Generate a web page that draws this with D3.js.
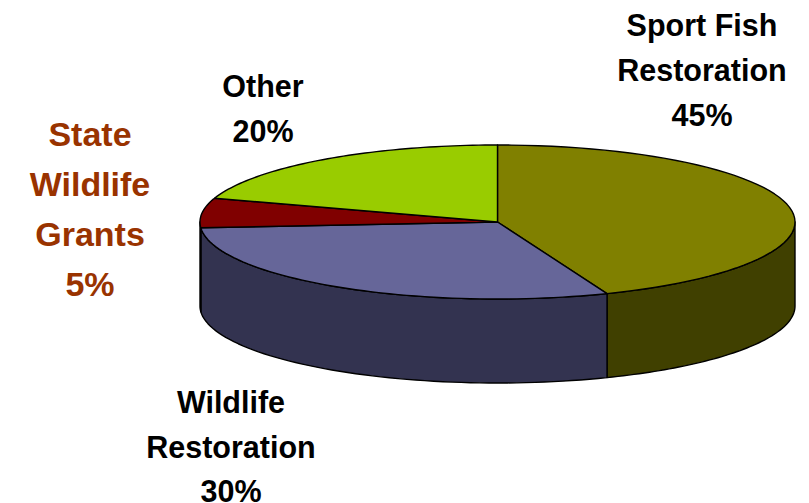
<!DOCTYPE html>
<html><head><meta charset="utf-8">
<script src="https://cdn.jsdelivr.net/npm/d3@7"></script>
<style>html,body{margin:0;padding:0;background:#fff}svg{display:block}</style>
</head><body><svg id="c" width="809" height="503"></svg>
<script>
const categories = ["Sport Fish Restoration", "Wildlife Restoration", "State Wildlife Grants", "Other"];
const labelValues = ["45%", "30%", "5%", "20%"];
const drawnShares = [44, 29.8, 6.2, 20];
const topColors = ["#808000", "#666699", "#800000", "#99CC00"];
const sideColors = ["#404000", "#333350", "#400000", "#4d6600"];
const labelLines = [["Sport Fish", "Restoration", "45%"], ["Wildlife", "Restoration", "30%"], ["State", "Wildlife", "Grants", "5%"], ["Other", "20%"]];
const labelColors = ["#000", "#000", "#993300", "#000"];
const labelX = [702, 231, 90, 263];
const labelY = [36, 413, 146, 97];
const labelStep = [45, 44.5, 50, 45];
const labelSize = [30.5, 30.5, 34, 30.5];

const cx = 497.5, cy = 222, rx = 297.5, ry = 77, depth = 84;
const svg = d3.select("#c");
const sx = d3.scaleLinear().domain([-1, 1]).range([cx - rx, cx + rx]);
const sy = d3.scaleLinear().domain([-1, 1]).range([cy - ry, cy + ry]);
const arcs = d3.pie().sort(null).value(d => d)(drawnShares);

const topPt = (a, dz = 0) => [sx(Math.sin(a)), sy(-Math.cos(a)) + dz];
const samples = (a, b) => d3.range(0, 61).map(i => a + (b - a) * i / 60);
const line = d3.line();

// side walls: only the front half (90deg to 270deg) is visible
arcs.forEach((s, i) => {
  const a = Math.max(s.startAngle, Math.PI / 2), b = Math.min(s.endAngle, 3 * Math.PI / 2);
  if (b <= a) return;
  const pts = samples(a, b).map(t => topPt(t)).concat(samples(b, a).map(t => topPt(t, depth)));
  svg.append("path").attr("d", line(pts) + "Z")
    .attr("fill", sideColors[i]).attr("stroke", "#000").attr("stroke-width", 1.4).attr("stroke-linejoin", "round");
});

// top faces
arcs.forEach((s, i) => {
  const pts = [[cx, cy]].concat(samples(s.startAngle, s.endAngle).map(t => topPt(t)));
  svg.append("path").attr("d", line(pts) + "Z")
    .attr("fill", topColors[i]).attr("stroke", "#000").attr("stroke-width", 1.4).attr("stroke-linejoin", "round");
});

// labels
labelLines.forEach((lines, i) => {
  const t = svg.append("text").attr("text-anchor", "middle")
    .attr("font-family", "'Liberation Sans', Arial, sans-serif").attr("font-weight", "bold")
    .attr("font-size", labelSize[i]).attr("fill", labelColors[i]);
  lines.forEach((l, j) => t.append("tspan").attr("x", labelX[i]).attr("y", labelY[i] + j * labelStep[i]).text(l));
});
</script></body></html>
